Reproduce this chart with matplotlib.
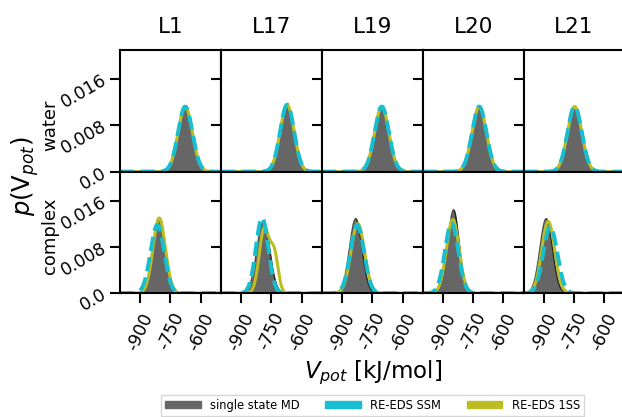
import numpy as np
import matplotlib
matplotlib.use("Agg")
import matplotlib.pyplot as plt
from matplotlib.patches import Patch

plt.rcParams["axes.unicode_minus"] = False

ligands = ["L1", "L17", "L19", "L20", "L21"]
rows = ["water", "complex"]

# peak positions (kJ/mol) and widths
md_water_mean = [-678, -673, -704, -721, -748]
md_water_sd = [36, 35, 36, 36, 36]
ssm_water_mean = [-677, -672, -703, -720, -747]
ssm_water_sd = [35.5, 34.5, 35.5, 35.5, 35.5]
oness_water_mean = [-677, -672, -703, -720, -747]
oness_water_sd = [35.5, 34.5, 35.5, 35.5, 35.5]

md_complex_mean = [-807, -790, -832, -847, -888]
md_complex_sd = [31, 32, 31, 27.7, 31]
ssm_complex_mean = [-815, -796, -825, -857, -868]
ssm_complex_sd = [33.8, 30.7, 33.8, 33, 34.7]
oness_complex_mean = [-806, -785, -822, -851, -878]
oness_complex_sd = [30.7, 25, 33.2, 31.4, 32.2]
# L17 complex, RE-EDS 1SS has a shoulder: (weight, mean, sd)
oness_shoulder = {"L17": (0.3, -735, 19)}

yticks = [0.0, 0.008, 0.016]
yticklabels = ["0.0", "0.008", "0.016"]
xticks = [-900, -750, -600]

c_md = "#666666"
c_ssm = "#17becf"
c_1ss = "#bcbd22"


def gauss(x, mu, sd, w=1.0):
    return w * np.exp(-0.5 * ((x - mu) / sd) ** 2) / (sd * np.sqrt(2 * np.pi))


x = np.linspace(-1000, -500, 600)

data = {
    "water": (md_water_mean, md_water_sd, ssm_water_mean, ssm_water_sd,
              oness_water_mean, oness_water_sd),
    "complex": (md_complex_mean, md_complex_sd, ssm_complex_mean, ssm_complex_sd,
                oness_complex_mean, oness_complex_sd),
}
row_label_y = {"water": 1 - 125 / 417, "complex": 1 - 236 / 417}

fig, axes = plt.subplots(2, 5, figsize=(6.22, 4.17), dpi=100, sharex=True, sharey=True)
fig.subplots_adjust(left=0.193, right=1.004, top=0.880, bottom=0.297,
                    wspace=0, hspace=0)

for r, row in enumerate(rows):
    md_m, md_s, ssm_m, ssm_s, os_m, os_s = data[row]
    for c, lig in enumerate(ligands):
        ax = axes[r, c]
        y_md = gauss(x, md_m[c], md_s[c])
        ax.fill_between(x, 0, y_md, color=c_md, lw=0)
        ax.plot(x, y_md, color="k", lw=1, alpha=0.7)

        if row == "complex" and lig in oness_shoulder:
            w, mu2, sd2 = oness_shoulder[lig]
            y_1ss = gauss(x, os_m[c], os_s[c], 1 - w) + gauss(x, mu2, sd2, w)
        else:
            y_1ss = gauss(x, os_m[c], os_s[c])
        ax.plot(x, y_1ss, color=c_1ss, lw=2.2)
        ax.plot(x, gauss(x, ssm_m[c], ssm_s[c]), color=c_ssm, lw=2.8, ls="--")

        ax.set_xlim(-1000, -500)
        ax.set_ylim(0, 0.021)
        ax.set_yticks(yticks)
        ax.set_xticks(xticks)
        for s in ax.spines.values():
            s.set_linewidth(1.5)
        ax.tick_params(direction="out", length=7, width=1.5, labelsize=12.5)
        if r == 0:
            ax.set_title(lig, fontsize=15.5, pad=12)
            ax.tick_params(bottom=False)
        else:
            ax.set_xticklabels([str(t) for t in xticks], rotation=65)
            ax.tick_params(axis="x", pad=5)
        if c == 0:
            ax.set_yticklabels(yticklabels, rotation=30, rotation_mode="anchor",
                               ha="right", va="center")
        else:
            ax.tick_params(labelleft=False)
    fig.text(50 / 622, row_label_y[row], row, fontsize=13, rotation=90,
             ha="center", va="center")

fig.text(25 / 622, 1 - 176 / 417, r"$p(\mathrm{V}_{pot})$", fontsize=17.5,
         rotation=90, ha="center", va="center")
fig.text(0.599, 1 - 373 / 417, r"$V_{pot}$ [kJ/mol]", fontsize=16.5,
         ha="center", va="center")

handles = [Patch(color=c_md, label="single state MD"),
           Patch(color=c_ssm, label="RE-EDS SSM"),
           Patch(color=c_1ss, label="RE-EDS 1SS")]
fig.legend(handles=handles, loc="lower center", bbox_to_anchor=(0.599, 0.0),
           ncol=3, fontsize=8.3, handlelength=3.1, handleheight=0.5,
           columnspacing=2.2, borderaxespad=0.1, fancybox=False,
           borderpad=0.35)

fig.savefig("out.png", dpi=100)
